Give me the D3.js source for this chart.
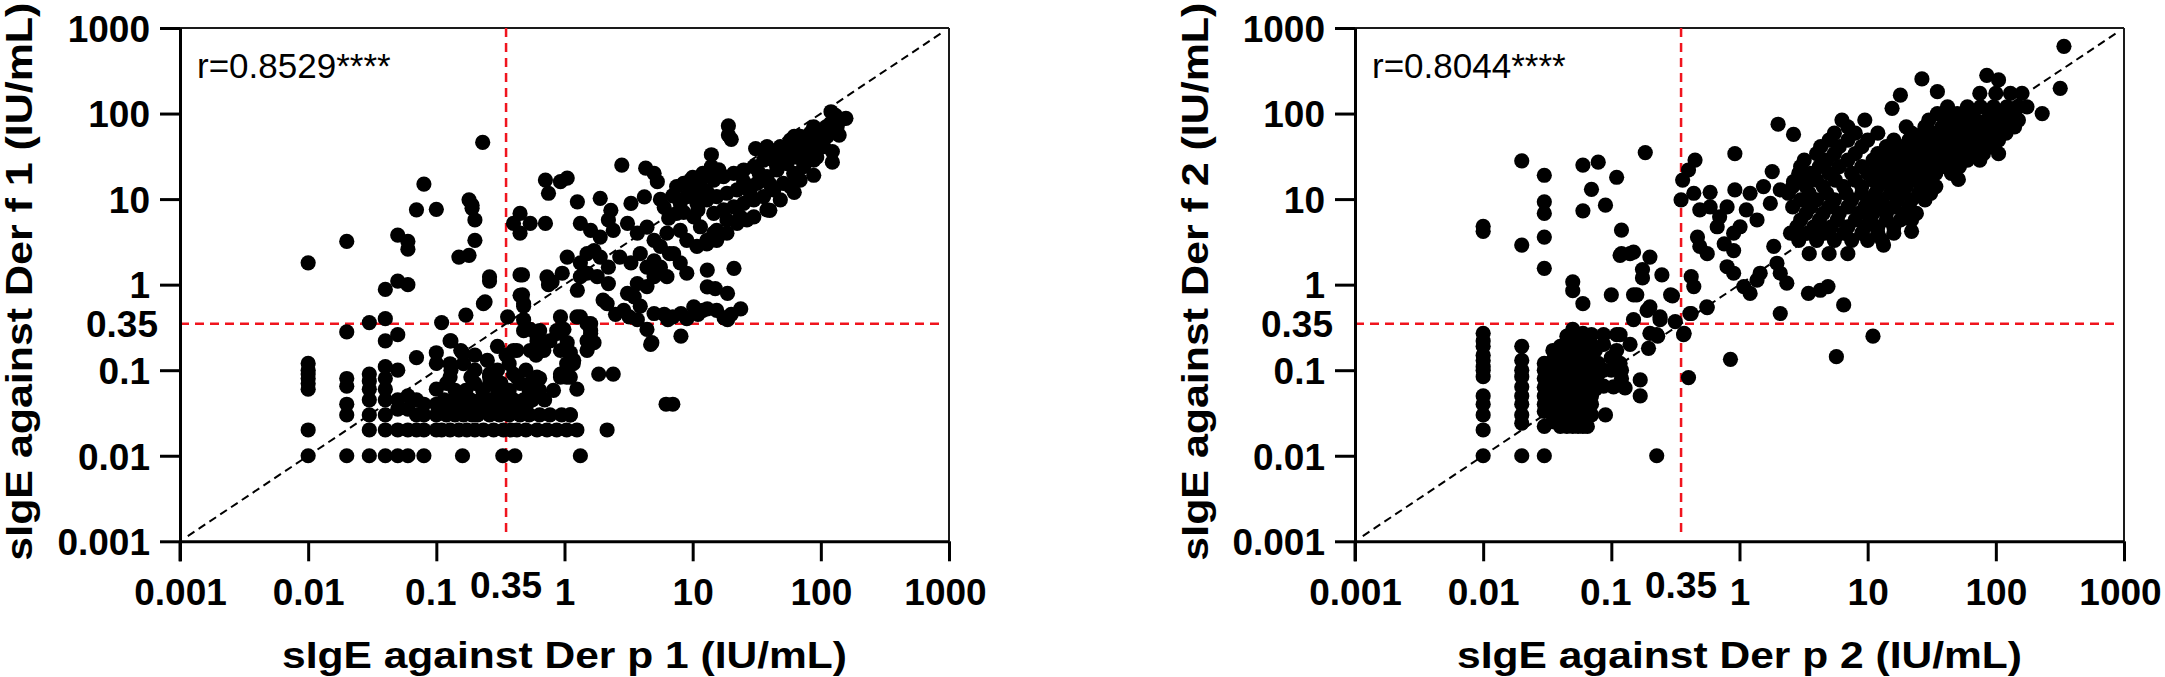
<!DOCTYPE html>
<html><head><meta charset="utf-8">
<script src="https://cdn.jsdelivr.net/npm/d3@7"></script>
<style>body{margin:0;background:#fff}svg{display:block}</style>
</head><body>
<svg id="chart" width="2165" height="677"></svg>
<script>
// ---------- data ----------
const tickValues = [0.001, 0.01, 0.1, 1, 10, 100, 1000];
const tickLabels = ["0.001", "0.01", "0.1", "1", "10", "100", "1000"];
const cutoffValue = 0.35;
const cutoffLabel = "0.35";
const xTitles = ["sIgE against Der p 1 (IU/mL)", "sIgE against Der p 2 (IU/mL)"];
const yTitles = ["sIgE against Der f 1 (IU/mL)", "sIgE against Der f 2  (IU/mL)"];
const rLabels = ["r=0.8529****", "r=0.8044****"];

// Der p 1 (x) vs Der f 1 (y)
const derP1DerF1 = [
[0.01,1.8],[0.01,0.12],[0.01,0.1],[0.01,0.09],[0.01,0.08],[0.01,0.07],[0.01,0.06],[0.01,0.02],[0.01,0.01],
[0.02,3.2],[0.02,0.28],[0.02,0.08],[0.02,0.065],[0.02,0.04],[0.02,0.03],[0.02,0.01],
[0.03,0.36],[0.03,0.09],[0.03,0.075],[0.03,0.06],[0.03,0.045],[0.03,0.03],[0.03,0.02],[0.03,0.01],
[0.04,0.88],[0.04,0.4],[0.04,0.22],[0.04,0.11],[0.04,0.08],[0.04,0.06],[0.04,0.045],[0.04,0.03],[0.04,0.02],[0.04,0.01],
[0.05,3.8],[0.05,1.1],[0.05,0.26],[0.05,0.1],[0.05,0.045],[0.05,0.035],[0.05,0.02],[0.05,0.01],
[0.06,3.2],[0.06,2.6],[0.06,1.0],[0.06,0.05],[0.06,0.035],[0.06,0.02],[0.06,0.01],
[0.07,7.5],[0.07,0.14],[0.07,0.045],[0.07,0.03],[0.07,0.02],
[0.08,15],[0.08,0.04],[0.08,0.03],[0.08,0.02],[0.08,0.01],
[0.1,7.6],[0.1,0.16],[0.1,0.12],[0.1,0.06],[0.1,0.04],[0.1,0.03],[0.1,0.02],
[0.11,0.36],[0.13,0.22],[0.16,0.16],[0.16,0.01],
[0.23,46],[0.18,9.8],[0.19,8.5],[0.19,7.8],[0.2,5.7],[0.2,3.3],[0.18,2.2],[0.15,2.1],
[0.26,1.1],[0.24,0.63],[0.17,0.44],
[0.11,0.02],[0.128,0.02],[0.15,0.02],[0.173,0.02],[0.2,0.02],[0.233,0.02],[0.28,0.02],[0.334,0.02],[0.38,0.02],[0.425,0.02],[0.5,0.02],[0.61,0.02],[0.73,0.02],[0.87,0.02],[1.04,0.02],[1.25,0.02],
[0.33,0.01],[0.41,0.01],[1.33,0.01],
[0.12,0.03],[0.14,0.03],[0.163,0.03],[0.19,0.03],[0.21,0.03],[0.26,0.03],[0.31,0.03],[0.37,0.03],[0.45,0.03],[0.53,0.03],[0.64,0.03],[0.77,0.03],[0.95,0.03],[1.11,0.03],
[0.12,0.037],[0.145,0.037],[0.17,0.037],[0.2,0.037],[0.24,0.037],[0.29,0.037],[0.35,0.037],[0.42,0.037],[0.5,0.037],
[0.115,0.045],[0.135,0.045],[0.155,0.045],[0.185,0.045],[0.22,0.045],[0.27,0.045],[0.33,0.045],[0.4,0.045],[0.48,0.045],[0.56,0.045],[0.7,0.045],
[0.14,0.058],[0.17,0.058],[0.23,0.058],[0.3,0.058],[0.37,0.058],[0.53,0.058],[0.64,0.058],[0.82,0.058],[1.25,0.06],
[0.12,0.07],[0.2,0.07],[0.26,0.07],[0.32,0.07],[0.45,0.07],[0.54,0.07],
[0.128,0.083],[0.186,0.083],[0.26,0.083],[0.425,0.083],[0.61,0.083],[0.64,0.08],[0.93,0.083],[1.04,0.083],[1.11,0.083],
[0.13,0.1],[0.2,0.1],[0.3,0.1],[0.5,0.1],[0.93,0.09],[0.26,0.09],[0.4,0.09],
[0.128,0.119],[0.163,0.119],[0.25,0.13],[0.37,0.119],[1.04,0.119],[1.17,0.119],[1.18,0.13],
[0.2,0.15],[0.35,0.15],[0.6,0.15],[0.155,0.17],[0.3,0.19],[0.4,0.17],[0.425,0.17],[0.54,0.17],[0.69,0.17],[0.93,0.17],[1.11,0.16],[1.5,0.17],[0.69,0.19],
[0.128,0.22],[0.61,0.22],[0.77,0.22],[1.05,0.21],[1.5,0.22],[1.7,0.21],[0.48,0.29],[0.64,0.29],[0.87,0.29],[1.6,0.29],[0.54,0.3],[0.61,0.25],[0.88,0.27],[0.99,0.3],[1.6,0.27],
[0.36,0.42],[0.48,0.39],[0.93,0.42],[1.25,0.42],[1.33,0.42],[1.5,0.35],[0.233,0.6],[0.48,0.6],[0.45,0.75],
[0.26,1.23],[0.45,1.3],[0.73,1.23],
[0.45,6.8],[0.4,5.2],[0.54,5.2],[0.45,4],[0.71,5.2],
[0.71,16.7],[0.75,11.7],[0.93,16],[1.05,17.6],[1.26,9.3],[1.9,10.2],[2.3,7.4],
[3.3,8.9],[4.2,10.6],[5.6,9.9],[7.1,10.9],[9.6,16.7],[11.5,16.7],
[5,20],[5.3,16],[4.3,23],[2.8,25],[14,33],[14,24],
[1.33,5.2],[1.6,4.3],[1.9,3.6],[2.2,5.7],[2.4,4.3],
[3.1,5.2],[3.7,4.0],[4.4,4.7],[5,3.3],[5.6,2.8],[6.6,2.3],
[1.05,2.1],[1.33,1.8],[1.5,2.3],[1.7,2.5],[1.9,2.1],[2.2,1.6],[2.7,2.1],[3.3,1.8],
[3.9,2.3],[4.4,1.6],[5,1.24],[4.4,0.95],[3.7,1.03],[3.5,0.72],[3.9,0.56],[3.1,0.79],
[1.33,1.24],[1.5,1.36],[1.26,0.86],[1.8,1.24],[2.2,1.03],[2,0.66],
[0.47,1.3],[0.47,0.76],[0.48,0.56],[0.8,1.08],[0.96,1.36],[0.75,1.0],
[2.15,0.6],[2.9,0.5],[3.7,0.39],[5,0.46],[6.4,0.39],[8.1,0.46],[10.2,0.55],[13,0.52],[15.4,0.5],[18.7,0.39],[23.7,0.52],[4.4,0.3],[4.8,0.21],[8.1,0.25],[4.7,0.2],[17.6,0.41],[6,0.45],[7,0.42],[9,0.4],[11,0.45],[12,0.5],[20,0.45],[2.5,0.45],[3.2,0.42],
[13,1.48],[21,1.55],[13,0.94],[15,0.9],[18.7,0.79],
[1.85,0.09],[2.4,0.09],[6.2,0.04],[7,0.04],[2.15,0.02],[1.11,0.03],[1.6,0.35],
[19,72],[19,56],[20,50],[31,39],[120,105],[157,88],[139,56],[123,36],[123,27],[88,19],[88,70],[62,54],[62,12],[40,7.4],
[8.5,15.3],[10.2,14],[12.2,12.8],[14.6,16.7],[17.4,18.3],[20.9,20],[25,21.9],[30,24],[35.8,28.6],[40.4,34],[48.3,41],[57.8,49],[69,54],[82.8,59],[99,64],[119,77],[142,84],
[9,10.7],[10.8,8.9],[12.9,9.8],[15.4,10.7],[18.5,11.7],[22.2,12.8],[26.5,14],[31.8,15.3],[38,18.3],[45.5,21.9],[54.5,26],[65,31],[78,37.5],[93,45],[112,54],[134,70],
[14.6,6.8],[17.4,7.5],[20.9,8.1],[25,8.9],[30,9.8],[35.8,10.7],[42.9,12.8],[51,15.3],[61.4,20],[73.5,24],[88,28.6],
[10.2,6.2],[11.5,4.75],[14.6,4],[18.5,5.7],[23.5,6.2],[30,6.2],[38,7.5],[48.3,9.8],[57.8,14],[69,16.7],
[7.5,6.8],[8,4.3],[9,3.3],[10.8,2.8],[12.9,3.3],[15.4,4.3],[18.5,4],[22.2,5.2],[26.5,5.7],
[6.3,4],[7.1,2.3],[8,1.8],[9,1.36],[6.3,1.24],[5.6,1.6],[5,1.9],[12.9,3],[15.4,3.3],
[38,41],[42.9,28.6],[51,31],[61.4,37.5],[69,31],[82.8,45],[93,31],[105,41],
[25,16],[33,20],[28,12],[40,15],[45,25],[55,35],[65,45],[75,50],[100,50],[110,70],[130,95],
[6,8],[7,11],[8,9],[9.5,12],[11,11],[6.5,6],[8.5,7],[11,7.5],[13,12],[10,18],[12,20],[16,22],[7.5,14]
];

// Der p 2 (x) vs Der f 2 (y)
const derP2DerF2 = [
[0.01,4.8],[0.01,4.2],[0.01,0.27],[0.01,0.22],[0.01,0.19],[0.01,0.15],[0.01,0.13],[0.01,0.11],[0.01,0.1],[0.01,0.084],[0.01,0.05],[0.01,0.04],[0.01,0.03],[0.01,0.02],[0.01,0.01],
[0.02,28],[0.02,2.9],[0.02,0.19],[0.02,0.13],[0.02,0.1],[0.02,0.084],[0.02,0.064],[0.02,0.05],[0.02,0.04],[0.02,0.03],[0.02,0.024],[0.02,0.01],
[0.03,19],[0.03,9.3],[0.03,6.8],[0.03,3.6],[0.03,1.55],[0.03,0.12],[0.03,0.1],[0.03,0.08],[0.03,0.063],[0.03,0.05],[0.03,0.04],[0.03,0.033],[0.03,0.022],[0.03,0.01],
[0.035,0.17],[0.035,0.13],[0.035,0.1],[0.035,0.08],[0.035,0.06],[0.035,0.045],[0.035,0.035],[0.035,0.025],
[0.04,0.19],[0.04,0.15],[0.04,0.12],[0.04,0.09],[0.04,0.07],[0.04,0.055],[0.04,0.04],[0.04,0.03],[0.04,0.022],
[0.045,0.25],[0.045,0.2],[0.045,0.16],[0.045,0.13],[0.045,0.1],[0.045,0.08],[0.045,0.065],[0.045,0.05],[0.045,0.04],[0.045,0.03],[0.045,0.022],
[0.05,1.08],[0.05,0.85],[0.05,0.3],[0.05,0.23],[0.05,0.18],[0.05,0.14],[0.05,0.11],[0.05,0.09],[0.05,0.07],[0.05,0.055],[0.05,0.045],[0.05,0.035],[0.05,0.022],
[0.055,0.26],[0.055,0.2],[0.055,0.15],[0.055,0.12],[0.055,0.1],[0.055,0.08],[0.055,0.06],[0.055,0.05],[0.055,0.04],[0.055,0.03],[0.055,0.022],
[0.06,25],[0.06,7.3],[0.06,0.6],[0.06,0.27],[0.06,0.21],[0.06,0.17],[0.06,0.13],[0.06,0.1],[0.06,0.085],[0.06,0.07],[0.06,0.055],[0.06,0.045],[0.06,0.035],[0.06,0.022],
[0.065,0.24],[0.065,0.18],[0.065,0.14],[0.065,0.11],[0.065,0.09],[0.065,0.075],[0.065,0.06],[0.065,0.05],[0.065,0.04],[0.065,0.03],[0.065,0.022],
[0.07,13],[0.07,0.26],[0.07,0.2],[0.07,0.15],[0.07,0.12],[0.07,0.1],[0.07,0.08],[0.07,0.065],[0.07,0.05],[0.07,0.04],[0.07,0.03],
[0.075,0.17],[0.075,0.06],[0.079,27],[0.079,0.12],[0.079,0.09],
[0.087,0.26],[0.087,0.2],[0.087,0.1],[0.087,0.065],[0.09,8.5],[0.09,0.03],
[0.1,0.76],[0.1,0.14],[0.1,0.1],[0.104,0.064],[0.11,18],[0.11,0.26],[0.11,0.17],
[0.117,0.26],[0.117,0.12],[0.117,2.2],[0.12,4.35],[0.12,2.3],[0.12,0.1],[0.12,0.08],[0.128,0.062],
[0.14,2.3],[0.14,0.2],[0.149,2.4],[0.149,0.76],[0.149,0.39],[0.158,0.76],[0.168,0.077],[0.168,0.05],
[0.175,1.2],[0.175,1.5],[0.184,35],[0.195,0.18],[0.2,2.1],[0.2,0.55],[0.226,0.26],[0.226,0.01],
[0.24,0.42],[0.248,1.3],[0.3,0.74],[0.315,0.37],[0.366,0.26],[0.4,0.082],[0.41,0.46],[0.556,0.55],
[0.85,0.134],[2.08,0.46],[5.7,0.144],[11,0.25],
[0.24,0.39],[0.19,0.5],[0.2,0.27],[0.37,0.27],[0.23,0.25],[0.29,0.76],[0.42,1.24],[0.44,0.95],[0.56,0.54],[0.42,0.46],
[0.47,3.6],[0.49,2.8],[0.56,2.3],[0.76,3.0],[0.9,2.5],[0.8,1.62],[0.9,1.36],[1.08,0.95],[1.21,0.79],[1.37,1.13],[1.45,1.36],[1.96,1.78],[2.08,1.36],[2.34,1.04],[1.85,2.8],
[0.92,12.8],[1.21,11.7],[1.54,14],[2.08,12.8],[1.74,8.9],[1.13,7.5],[1.37,5.7],[1.01,4.75],[0.9,4.0],
[0.49,7.5],[0.59,8.1],[0.7,6.2],[0.8,8.1],[0.67,4.75],
[0.45,28.6],[0.4,21.9],[0.36,16.7],[0.35,9.8],[0.44,11.7],[0.59,12],[0.92,34],[2,75],[2.64,57],[6.3,84],[1.8,21],[3.45,19],[3,16],[2.64,16],
[340,610],[318,197],[230,100],[105,34],[51,17],[26.5,254],[85,280],[105,247],[35,180],[18,164],[15.5,115],
[6.5,0.58],[3.45,0.79],[4.27,0.86],[4.9,0.95],[13.3,2.9],[22,4.2],
[75,172],[100,172],[130,172],[160,172],
[42,120],[60,120],[76,120],[96,120],[122,120],[150,120],[175,120],
[35,100],[50,100],[65,100],[90,100],[115,100],[140,100],
[9.5,84],[30,84],[42,84],[55,84],[70,84],[85,84],[108,84],[130,84],[150,84],
[7,70],[20,70],[28,70],[38,70],[48,70],[62,70],[75,70],[95,70],[115,70],[140,70],
[5.5,59],[8,59],[12,59],[22,59],[27,59],[33,59],[40,59],[50,59],[62,59],[80,59],[96,59],[120,59],
[5,49],[7,49],[10,49],[16,49],[21,49],[26,49],[31,49],[38,49],[46,49],[57,49],[70,49],[85,49],[105,49],
[4.3,41],[6,41],[9,41],[14,41],[19,41],[24,41],[30,41],[36,41],[45,41],[55,41],[70,41],[90,41],
[4,34],[5.5,34],[8,34],[12,34],[16,34],[20,34],[25,34],[31,34],[40,34],[50,34],[65,34],[80,34],
[3.2,28.6],[4.8,28.6],[7,28.6],[11,28.6],[14,28.6],[18,28.6],[22,28.6],[27,28.6],[35,28.6],[45,28.6],[60,28.6],[75,28.6],
[3,24],[4.2,24],[6,24],[9,24],[12,24],[15,24],[19,24],[24,24],[30,24],[38,24],[52,24],
[2.9,20],[3.6,20],[5,20],[7.5,20],[10,20],[13,20],[17,20],[21,20],[27,20],[34,20],[45,20],
[2.8,16.7],[4,16.7],[5.6,16.7],[8,16.7],[11,16.7],[14,16.7],[18,16.7],[23,16.7],[30,16.7],
[2.6,14],[3.3,14],[4.5,14],[6.5,14],[9,14],[12,14],[16,14],[20,14],[26,14],[34,14],
[2.4,11.7],[3.5,11.7],[4.8,11.7],[6.8,11.7],[9,11.7],[11.5,11.7],[15,11.7],[19,11.7],[25,11.7],[31,11.7],
[3,9.8],[4,9.8],[5.5,9.8],[7.5,9.8],[10,9.8],[13,9.8],[17,9.8],[22,9.8],[28,9.8],
[2.6,8.1],[3.6,8.1],[5,8.1],[7,8.1],[9.5,8.1],[12,8.1],[16,8.1],[21,8.1],
[3.3,6.8],[4.5,6.8],[6,6.8],[8.5,6.8],[11,6.8],[14,6.8],[19,6.8],[24,6.8],
[3,5.7],[4.2,5.7],[5.8,5.7],[8,5.7],[10.5,5.7],[14,5.7],[18,5.7],[22,5.7],
[2.8,4.75],[3.8,4.75],[5.2,4.75],[7,4.75],[9.5,4.75],[12,4.75],[16,4.75],
[2.5,4],[3.4,4],[4.6,4],[6.5,4],[9,4],[12,4],[16,4],
[2.9,3.3],[4,3.3],[5.5,3.3],[7.5,3.3],[10,3.3],[13,3.3],
[3.5,2.3],[5,2.3],[7,2.3]
];

// ---------- layout ----------
const panels = [
  {left: 180,  data: derP1DerF1, xTitle: xTitles[0], yTitle: yTitles[0], r: rLabels[0], yTitleX: 32},
  {left: 1355, data: derP2DerF2, xTitle: xTitles[1], yTitle: yTitles[1], r: rLabels[1], yTitleX: 1208}
];
const plotTop = 28, plotBottom = 541.3, plotWidth = 769;
const FONT = "'Liberation Sans', Arial, Helvetica, sans-serif";
const svg = d3.select("#chart");

panels.forEach(p => {
  const x = d3.scaleLog().domain([0.001, 1000]).range([p.left, p.left + plotWidth]);
  const y = d3.scaleLog().domain([0.001, 1000]).range([plotBottom, plotTop]);
  const g = svg.append("g");

  // frame top and right
  g.append("line").attr("x1", x(0.001)).attr("x2", x(1000)).attr("y1", y(1000)).attr("y2", y(1000))
    .attr("stroke", "#1a1a1a").attr("stroke-width", 2);
  g.append("line").attr("x1", x(1000)).attr("x2", x(1000)).attr("y1", y(1000)).attr("y2", y(0.001))
    .attr("stroke", "#1a1a1a").attr("stroke-width", 2);

  // cutoff lines
  g.append("line").attr("x1", x(cutoffValue)).attr("x2", x(cutoffValue))
    .attr("y1", y(1000)).attr("y2", y(0.00116))
    .attr("stroke", "#f0141e").attr("stroke-width", 2.5).attr("stroke-dasharray", "9,6");
  g.append("line").attr("x1", x(0.001)).attr("x2", x(870)).attr("y1", y(cutoffValue)).attr("y2", y(cutoffValue))
    .attr("stroke", "#f0141e").attr("stroke-width", 2.5).attr("stroke-dasharray", "9,6");

  // identity line
  const line = d3.line().x(d => x(d[0])).y(d => y(d[1]));
  g.append("path").attr("d", line([[0.00115, 0.00115], [870, 870]]))
    .attr("fill", "none").attr("stroke", "#000").attr("stroke-width", 2).attr("stroke-dasharray", "8,5");

  // points
  g.append("g").selectAll("circle").data(p.data).join("circle")
    .attr("cx", d => x(d[0])).attr("cy", d => y(d[1])).attr("r", 7.6).attr("fill", "#000");

  // axes
  const xAxis = d3.axisBottom(x).tickValues(tickValues).tickSize(20).tickSizeOuter(0).tickPadding(17)
    .tickFormat((d, i) => tickLabels[i]);
  const gx = g.append("g").attr("transform", `translate(0,${plotBottom})`).call(xAxis);
  const yAxis = d3.axisLeft(y).tickValues(tickValues).tickSize(20).tickSizeOuter(0).tickPadding(10)
    .tickFormat((d, i) => tickLabels[i]);
  const gy = g.append("g").attr("transform", `translate(${p.left},0)`).call(yAxis);
  [gx, gy].forEach(ax => {
    ax.select(".domain").attr("stroke", "#000").attr("stroke-width", 3);
    ax.selectAll(".tick line").attr("stroke", "#000").attr("stroke-width", 3);
    ax.selectAll(".tick text").attr("fill", "#000").style("font-family", FONT)
      .style("font-size", "37px").style("font-weight", "bold");
  });
  gy.selectAll(".tick text").attr("dy", "0.36em");
  gx.selectAll(".tick text").filter(d => d === 0.1).attr("dx", -6);
  gx.selectAll(".tick text").filter(d => d === 1000).attr("dx", -4);
  // extend y axis line down to the tick bottom
  g.append("line").attr("x1", p.left).attr("x2", p.left).attr("y1", plotBottom).attr("y2", plotBottom + 20)
    .attr("stroke", "#000").attr("stroke-width", 3);

  // cutoff labels
  g.append("text").attr("x", x(cutoffValue)).attr("y", plotBottom + 57).attr("text-anchor", "middle")
    .style("font-family", FONT).style("font-size", "37px").style("font-weight", "bold").text(cutoffLabel);
  g.append("text").attr("x", p.left - 22).attr("y", y(cutoffValue)).attr("dy", "0.36em").attr("text-anchor", "end")
    .style("font-family", FONT).style("font-size", "37px").style("font-weight", "bold").text(cutoffLabel);

  // r label
  g.append("text").attr("x", p.left + 17).attr("y", 78)
    .style("font-family", FONT).style("font-size", "35px").text(p.r);

  // titles
  g.append("text").attr("x", (x(0.001) + x(1000)) / 2).attr("y", 668).attr("text-anchor", "middle")
    .attr("textLength", 565).attr("lengthAdjust", "spacingAndGlyphs")
    .style("font-family", FONT).style("font-size", "37px").style("font-weight", "bold").text(p.xTitle);
  g.append("text").attr("transform", `translate(${p.yTitleX},${(plotTop + plotBottom) / 2 - 3}) rotate(-90)`)
    .attr("text-anchor", "middle").attr("textLength", 558).attr("lengthAdjust", "spacingAndGlyphs")
    .style("font-family", FONT).style("font-size", "37px").style("font-weight", "bold").text(p.yTitle);
});
</script>
</body></html>
